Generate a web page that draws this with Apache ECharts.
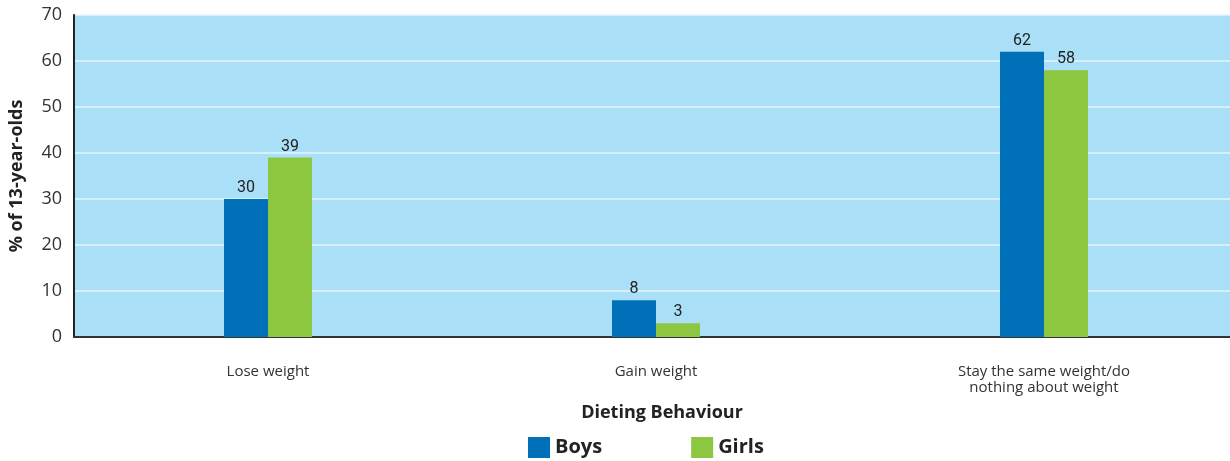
<!DOCTYPE html>
<html>
<head>
<meta charset="utf-8">
<script src="https://cdn.jsdelivr.net/npm/echarts@6/dist/echarts.min.js"></script>
<style>
  html, body { margin: 0; padding: 0; background: #fff; }
  #chart { width: 1230px; height: 461px; }
</style>
</head>
<body>
<div id="chart"></div>
<script>
var categories = ['Lose weight', 'Gain weight', 'Stay the same weight/do\nnothing about weight'];
var boys = [30, 8, 62];
var girls = [39, 3, 58];
var seriesNames = ['Boys', 'Girls'];

var myChart = echarts.init(document.getElementById('chart'));
var font = '"Open Sans", "Noto Sans", sans-serif';
var labelStyle = {
  show: true,
  position: 'top',
  distance: 3,
  color: '#222',
  fontSize: 16,
  fontFamily: '"Liberation Sans Narrow", Roboto, sans-serif'
};
var option = {
  animation: false,
  grid: { left: 74, width: 1164, top: 15, bottom: 124, containLabel: false, outerBoundsMode: 'none' },
  legend: {
    bottom: -2,
    left: 523,
    itemWidth: 22,
    itemHeight: 21,
    itemGap: 89,
    icon: 'rect',
    textStyle: { fontFamily: font, fontSize: 20, fontWeight: 'bold', color: '#222' },
    data: seriesNames
  },
  xAxis: {
    type: 'category',
    data: categories,
    name: 'Dieting Behaviour',
    nameLocation: 'middle',
    nameGap: 67,
    nameTextStyle: { fontFamily: font, fontSize: 18, fontWeight: 'bold', color: '#222', padding: [0, 0, 0, 12] },
    axisLine: { lineStyle: { color: '#333', width: 2 } },
    axisTick: { show: false },
    axisLabel: { fontFamily: font, fontSize: 15, color: '#333', margin: 27, lineHeight: 16 }
  },
  yAxis: {
    type: 'value',
    min: 0,
    max: 70,
    interval: 10,
    name: '% of 13-year-olds',
    nameLocation: 'middle',
    nameGap: 48,
    nameTextStyle: { fontFamily: font, fontSize: 18, fontWeight: 'bold', color: '#222' },
    axisLine: { show: true, lineStyle: { color: '#222', width: 2 } },
    axisTick: { show: false },
    axisLabel: { fontFamily: font, fontSize: 18, color: '#333', margin: 12 },
    splitLine: { lineStyle: { color: '#e4f4fc', width: 1.5 } },
    splitArea: { show: true, areaStyle: { color: ['#aadff8', '#aadff8'] } }
  },
  series: [
    {
      name: seriesNames[0],
      type: 'bar',
      data: boys,
      barWidth: 44,
      barGap: '0%',
      itemStyle: { color: '#0070b8' },
      label: labelStyle
    },
    {
      name: seriesNames[1],
      type: 'bar',
      data: girls,
      barWidth: 44,
      itemStyle: { color: '#8dc63f' },
      label: labelStyle
    }
  ]
};
myChart.setOption(option);
</script>
</body>
</html>
